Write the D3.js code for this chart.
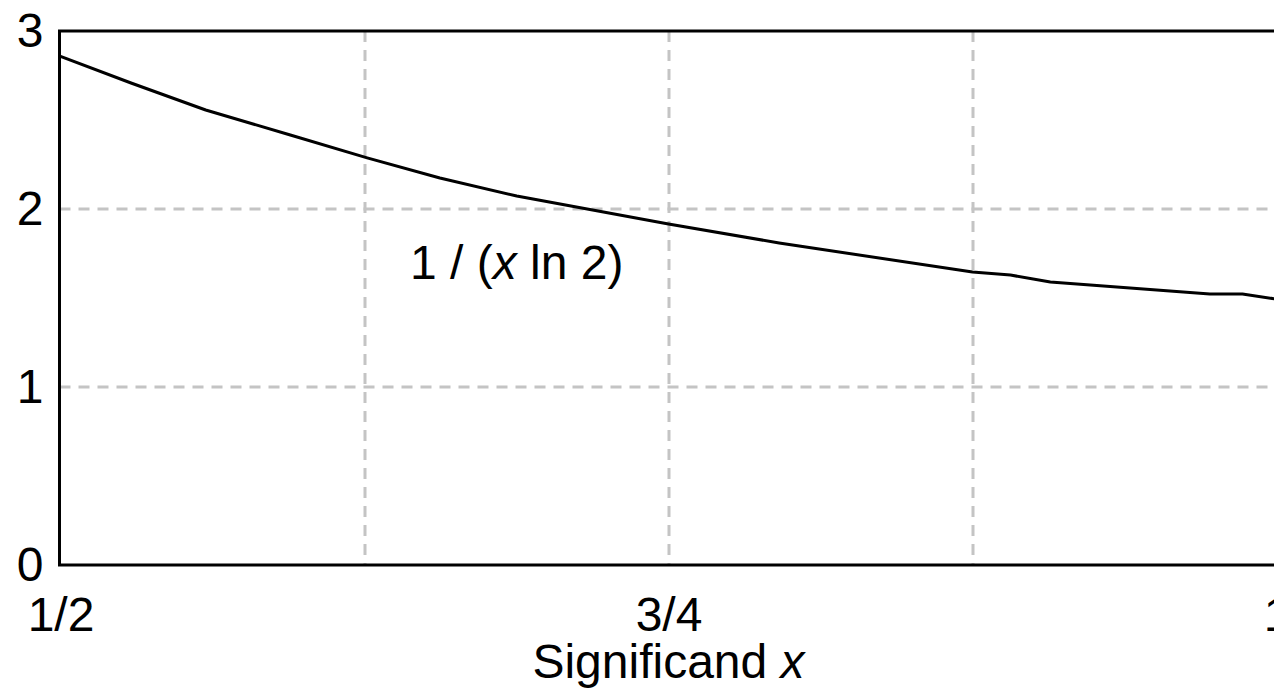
<!DOCTYPE html>
<html>
<head>
<meta charset="utf-8">
<script src="https://cdn.jsdelivr.net/npm/d3@7"></script>
<style>
  html, body { margin: 0; padding: 0; background: #fff; overflow: hidden; }
  svg { display: block; }
  text { font-family: "Liberation Sans", Arial, sans-serif; fill: #000; }
</style>
</head>
<body>
<svg id="chart" width="1274" height="694"></svg>
<script>
// Significand x and the density 1 / (x ln 2)
const significand = [0.5, 0.529, 0.5597, 0.5945, 0.6261, 0.656, 0.6876, 0.75, 0.7955, 0.875, 0.8906, 0.907, 0.9726, 0.986, 1.0];
const density     = [2.857, 2.708, 2.556, 2.416, 2.287, 2.174, 2.073, 1.916, 1.809, 1.646, 1.629, 1.590, 1.522, 1.522, 1.494];

const xTicks = [0.5, 0.75, 1.0];
const xTickLabels = ["1/2", "3/4", "1"];
const xGrid = [0.625, 0.75, 0.875];
const yTicks = [0, 1, 2, 3];
const yGrid = [1, 2];

const svg = d3.select("#chart");
const frameLeft = 59.5, plotLeft = 60.5, plotRight = 1276.5, plotTop = 31, plotBottom = 565;

const x = d3.scaleLinear().domain([0.5, 1.0]).range([plotLeft, plotRight]);
const y = d3.scaleLinear().domain([0, 3]).range([plotBottom, plotTop]);

// dashed grid
const grid = svg.append("g")
  .attr("stroke", "#c4c4c4")
  .attr("stroke-width", 3)
  .attr("stroke-dasharray", "11,8");
grid.selectAll("line.v").data(xGrid).join("line")
  .attr("class", "v")
  .attr("x1", d => Math.round(x(d))).attr("x2", d => Math.round(x(d)))
  .attr("y1", plotTop).attr("y2", plotBottom);
grid.selectAll("line.h").data(yGrid).join("line")
  .attr("class", "h")
  .attr("x1", frameLeft).attr("x2", plotRight)
  .attr("y1", d => y(d)).attr("y2", d => y(d));

// axes (labels only; the frame is drawn separately)
const xAxis = svg.append("g")
  .attr("transform", `translate(0,${plotBottom})`)
  .call(d3.axisBottom(x).tickValues(xTicks)
    .tickFormat((d, i) => xTickLabels[i]).tickSize(0).tickPadding(32));
xAxis.select(".domain").remove();
xAxis.attr("font-family", null).attr("font-size", null);
xAxis.selectAll("text").style("font-size", "48px");

const yAxis = svg.append("g")
  .attr("transform", `translate(${frameLeft},0)`)
  .call(d3.axisLeft(y).tickValues(yTicks).tickFormat(d3.format("d"))
    .tickSize(0).tickPadding(16));
yAxis.select(".domain").remove();
yAxis.attr("font-family", null).attr("font-size", null);
yAxis.selectAll("text").style("font-size", "48px");

// frame
svg.append("path")
  .attr("d", `M${plotRight},${plotTop}H${frameLeft}V${plotBottom}H${plotRight}V${plotTop}`)
  .attr("fill", "none")
  .attr("stroke", "#000")
  .attr("stroke-width", 3);

// curve
const line = d3.line()
  .x((d, i) => x(significand[i]))
  .y(d => y(d));
svg.append("path")
  .datum(density)
  .attr("d", line)
  .attr("fill", "none")
  .attr("stroke", "#000")
  .attr("stroke-width", 3)
  .attr("stroke-linejoin", "round");

// curve label
const lbl = svg.append("text")
  .attr("x", 410).attr("y", 279)
  .style("font-size", "48px");
lbl.append("tspan").text("1 / (");
lbl.append("tspan").attr("font-style", "italic").text("x");
lbl.append("tspan").text(" ln 2)");

// x-axis title
const title = svg.append("text")
  .attr("x", (x(0.5) + x(1.0)) / 2).attr("y", 678)
  .attr("text-anchor", "middle")
  .style("font-size", "48px");
title.append("tspan").text("Significand ");
title.append("tspan").attr("font-style", "italic").text("x");
</script>
</body>
</html>
